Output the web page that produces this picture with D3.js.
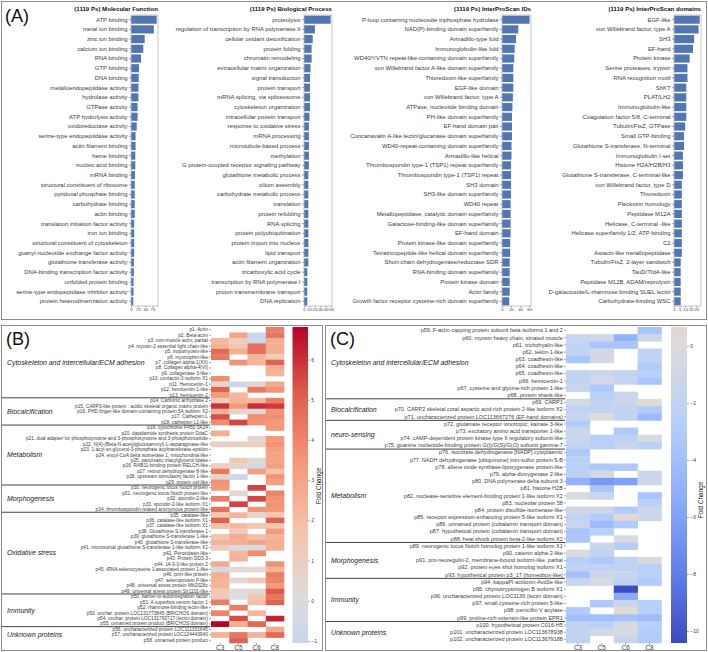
<!DOCTYPE html>
<html>
<head>
<meta charset="utf-8">
<script src="https://cdn.jsdelivr.net/npm/d3@7"></script>
<style>
  body { margin: 0; background: #fff; }
  svg { font-family: "Liberation Sans", Arial, sans-serif; }
  .axis path { display: none; }
  .axis line { stroke: #666; stroke-width: 0.6; }
  .axis text { fill: #3c3c3c; }
</style>
</head>
<body>
<svg id="chart" width="708" height="652"></svg>
<script>
// ---- panel A : top annotation terms (counts of proteins) ----
var mfTerms = ["ATP binding", "metal ion binding", "zinc ion binding", "calcium ion binding", "RNA binding",
  "GTP binding", "DNA binding", "metalloendopeptidase activity", "hydrolase activity", "GTPase activity",
  "ATP hydrolysis activity", "oxidoreductase activity", "serine-type endopeptidase activity", "actin filament binding",
  "heme binding", "nucleic acid binding", "mRNA binding", "structural constituent of ribosome",
  "pyridoxal phosphate binding", "carbohydrate binding", "actin binding", "translation initiation factor activity",
  "iron ion binding", "structural constituent of cytoskeleton", "guanyl-nucleotide exchange factor activity",
  "glutathione transferase activity", "DNA-binding transcription factor activity", "unfolded protein binding",
  "serine-type endopeptidase inhibitor activity", "protein heterodimerization activity"];
var mfCounts = [90, 80, 48, 43, 35, 28, 27, 26, 26, 23, 23, 20, 16, 16, 15, 15, 14, 13, 13, 13, 13, 11, 11, 11, 11, 10, 10, 9, 9, 8];

var bpTerms = ["proteolysis", "regulation of transcription by RNA polymerase II", "cellular oxidant detoxification",
  "protein folding", "chromatin remodeling", "extracellular matrix organization", "signal transduction",
  "protein transport", "mRNA splicing, via spliceosome", "cytoskeleton organization", "intracellular protein transport",
  "response to oxidative stress", "mRNA processing", "microtubule-based process", "methylation",
  "G protein-coupled receptor signaling pathway", "glutathione metabolic process", "cilium assembly",
  "carbohydrate metabolic process", "translation", "protein refolding", "RNA splicing", "protein polyubiquitination",
  "protein import into nucleus", "lipid transport", "actin filament organization", "tricarboxylic acid cycle",
  "transcription by RNA polymerase I", "proton transmembrane transport", "DNA replication"];
var bpCounts = [49, 20, 16, 14, 14, 12, 11, 11, 11, 11, 10, 9, 9, 9, 9, 9, 8, 8, 8, 8, 8, 8, 8, 8, 8, 8, 6, 6, 6, 6];

var iprIdTerms = ["P-loop containing nucleoside triphosphate hydrolase", "NAD(P)-binding domain superfamily",
  "Armadillo-type fold", "Immunoglobulin-like fold", "WD40/YVTN repeat-like-containing domain superfamily",
  "von Willebrand factor A-like domain superfamily", "Thioredoxin-like superfamily", "EGF-like domain",
  "von Willebrand factor, type A", "ATPase, nucleotide binding domain", "PH-like domain superfamily",
  "EF-hand domain pair", "Concanavalin A-like lectin/glucanase domain superfamily",
  "WD40-repeat-containing domain superfamily", "Armadillo-like helical",
  "Thrombospondin type-1 (TSP1) repeat superfamily", "Thrombospondin type-1 (TSP1) repeat", "SH3 domain",
  "SH3-like domain superfamily", "WD40 repeat", "Metallopeptidase, catalytic domain superfamily",
  "Galactose-binding-like domain superfamily", "EF-hand domain", "Protein kinase-like domain superfamily",
  "Tetratricopeptide-like helical domain superfamily", "Short-chain dehydrogenase/reductase SDR",
  "RNA-binding domain superfamily", "Protein kinase domain", "Actin family",
  "Growth factor receptor cysteine-rich domain superfamily"];
var iprIdCounts = [61, 36, 31, 28, 27, 25, 25, 25, 24, 23, 22, 22, 22, 21, 21, 20, 20, 20, 20, 19, 19, 19, 19, 18, 18, 17, 17, 17, 17, 16];

var iprDomTerms = ["EGF-like", "von Willebrand factor, type A", "SH3", "EF-hand", "Protein kinase",
  "Serine proteases, trypsin", "RNA recognition motif", "ShKT", "PLAT/LH2", "Immunoglobulin-like",
  "Coagulation factor 5/8, C-terminal", "Tubulin/FtsZ, GTPase", "Small GTP-binding",
  "Glutathione S-transferase, N-terminal", "Immunoglobulin I-set", "Histone H2A/H2B/H3",
  "Glutathione S-transferase, C-terminal-like", "von Willebrand factor, type D", "Thioredoxin",
  "Pleckstrin homology", "Peptidase M12A", "Helicase, C-terminal -like", "Helicase superfamily 1/2, ATP-binding",
  "C2", "Astacin-like metallopeptidase", "Tubulin/FtsZ, 2-layer sandwich", "TauD/TfdA-like",
  "Peptidase M12B, ADAM/reprolysin", "D-galactoside/L-rhamnose binding SUEL lectin", "Carbohydrate-binding WSC"];
var iprDomCounts = [23, 22, 18, 17, 14, 12, 12, 11, 11, 11, 11, 10, 9, 9, 8, 8, 8, 7, 7, 7, 7, 7, 7, 7, 7, 6, 6, 6, 6, 6];

var mfTicks = [0, 25, 50, 75];
var bpTicks = [0, 10, 20, 30, 40, 50];
var iprIdTicks = [0, 20, 40, 60];
var iprDomTicks = [0, 5, 10, 15, 20];

// ---- panels B and C : fold change heatmaps ----
var heatCols = ["C3", "C5", "C6", "C8"];
var N = null;

var upProteins = ["p1. Actin", "p2. Beta-actin", "p3. non-muscle actin, partial", "p4. myosin-2 essential light chain-like",
  "p5. tropomyosin-like", "p6. myotrophin-like", "p7. collagen alpha-1(XII)", "p8. Collagen alpha-4(VI)",
  "p9. collagenase 3-like", "p10. contactin-3 isoform X1", "p11. Hemicentin-1", "p12. hemicentin-1-like",
  "p13. hemicentin-2", "p14. Carbonic anhydrase 2", "p15. CARP3-like protein : acidic skeletal organic matrix protein",
  "p16. PHD finger-like domain-containing protein 5A isoform X2", "p17. Cathepsin L", "p18. cathepsin L1-like",
  "p19. cytochrome P450 3A24", "p20. dapdiamide synthesis protein DdaC",
  "p21. dual adapter for phosphotyrosine and 3-phosphotyrosine and 3-phosphoinositide",
  "p22. N(4)-(Beta-N-acetylglucosaminyl)-L-asparaginase-like", "p23. 1-acyl-sn-glycerol-3-phosphate acyltransferase epsilon",
  "p24. enoyl-CoA delta isomerase 1, mitochondrial-like", "p25. pancreatic triacylglycerol lipase",
  "p26. RAB11-binding protein RELCH-like", "p27. retinol dehydrogenase 8-like", "p28. upstream stimulatory factor 1-like",
  "p29. protein usf-like", "p30. neurogenic locus Notch protein", "p31. neurogenic locus Notch protein-like",
  "p32. spondin-2-like", "p33. spondin-2-like isoform X1", "p34. thrombospondin-related anonymous protein-like",
  "p35. catalase-like", "p36. catalase-like isoform X1", "p37. catalase-like isoform X1",
  "p38. Glutathione S-transferase 1", "p39. glutathione S-transferase 1-like", "p40. glutathione S-transferase-like",
  "p41. microsomal glutathione S-transferase 1-like isoform X1", "p42. Peroxidasin-like", "p43. Protein DD3-3",
  "p44. 14-3-3-like protein 2", "p45. tRNA selenocysteine 1-associated protein 1-like", "p46. pirin-like protein",
  "p47. selenoprotein F-like", "p48. universal stress protein Mb2028c", "p49. universal stress protein Slr1101-like",
  "p50. barrier-to-autointegration factor", "p51. A.superbus venom factor 1", "p52. rhamnose-binding lectin-like",
  "p53. unchar. protein LOC131773845 (BRICHOS domain)", "p54. unchar. protein LOC131793717 (lectin domain)",
  "p55. unnamed protein product (BRICHOS domain)", "p56. uncharacterized protein LOC111331645",
  "p57. uncharacterized protein LOC124443940", "p58. unnamed protein product"];
var upFold = [
  [N, N, N, 4.2], [N, 3.0, -0.7, 4.4], [2.2, 1.0, -0.7, 2.6], [2.4, 1.5, 4.6, 2.6], [4.8, 2.6, 4.6, 2.6],
  [4.4, N, 2.4, 1.2], [N, 3.6, 2.4, 5.0], [N, N, N, 2.6], [N, N, N, 2.4], [3.8, N, N, N],
  [0.4, -0.7, 0.6, 2.8], [5.0, N, 4.4, 3.6], [3.4, 2.2, N, N], [1.2, 2.4, 2.2, 4.2], [5.9, 3.4, 6.0, 5.8],
  [2.4, 0.6, 0.4, 3.6], [5.4, N, 3.8, 3.8], [3.8, 5.6, 3.6, 3.4], [N, N, N, 3.4], [2.6, N, N, N],
  [N, N, 0.4, 3.4], [1.0, 1.0, 1.0, 3.6], [N, N, N, 3.2], [N, N, N, 3.0], [N, 1.4, 0.4, 3.0],
  [1.0, 0.6, -0.6, 3.2], [4.4, N, 3.2, 1.8], [0.6, -0.6, N, 3.6], [3.6, N, N, 3.2], [3.4, N, 5.6, N],
  [N, 0.3, N, 4.0], [4.2, N, 5.6, 3.6], [N, 5.6, N, 3.6], [4.6, N, 3.6, 3.4], [1.4, 2.4, 0.3, 1.6],
  [5.0, N, N, 5.0], [1.8, 2.2, 1.6, 1.4], [N, 1.2, N, 3.4], [1.6, 2.8, 1.8, 2.4], [2.4, 2.6, 3.0, 2.6],
  [1.2, -0.3, -0.2, 2.6], [N, 2.2, 3.8, N], [N, 2.4, N, N], [2.8, N, N, 3.6], [-0.5, 0.2, 0.2, 2.4],
  [2.6, N, N, 4.2], [2.4, 0.3, 1.4, 4.0], [2.4, N, N, 3.4], [1.4, 0.2, 0.3, 5.2], [1.4, 0.0, 1.6, 4.4],
  [4.2, N, 2.0, 5.0], [N, 4.2, N, N], [4.0, N, 2.2, N], [N, 5.4, N, 6.2], [6.8, 2.6, 4.8, N],
  [N, N, N, 2.8], [2.4, 4.4, 2.4, 4.8], [N, 5.0, N, N]];
var upGroupNames = ["Cytoskeleton and intercellular/ECM adhesion", "Biocalcification", "Metabolism",
  "Morphogenesis", "Oxidative stress", "Immunity", "Unknown proteins"];
var upGroupSizes = [13, 5, 11, 5, 15, 6, 3];
var upRange = [-1.05, 6.81];
var upTicks = [-1, 0, 1, 2, 3, 4, 5, 6];

var downProteins = ["p59. F-actin-capping protein subunit beta isoforms 1 and 2", "p60. myosin heavy chain, striated muscle",
  "p61. trichohyalin-like", "p62. tektin-1-like", "p63. coadhesin-like", "p64. coadhesin-like", "p65. coadhesin-like",
  "p66. hemicentin-1", "p67. cysteine and glycine-rich protein 1-like", "p68. protein shank-like", "p69. CARP1",
  "p70. CARP2 skeletal coral aspartic acid-rich protein 2-like isoform X2",
  "p71. uncharacterized protein LOC113667276 (EF-hand domains)", "p72. glutamate receptor ionotropic; kainate 3-like",
  "p73. excitatory amino acid transporter 1-like", "p74. cAMP-dependent protein kinase type II regulatory subunit-like",
  "p75. guanine nucleotide-binding protein G(I)/G(S)/G(O) subunit gamma-7",
  "p76. isocitrate dehydrogenase [NADP] cytoplasmic", "p77. NADH dehydrogenase [ubiquinone] iron-sulfur protein 5-B",
  "p78. allene oxide synthase-lipoxygenase protein-like", "p79. alpha-dioxygenase 2-like",
  "p80. DNA polymerase delta subunit 3", "p81. histone H2B",
  "p82. nuclease-sensitive element-binding protein 1-like isoform X2", "p83. nucleolar protein 58",
  "p84. protein disulfide-isomerase-like", "p85. receptor expression-enhancing protein 5-like isoform X1",
  "p86. unnamed protein (cobalamin transport domain)", "p87. hypothetical protein (cobalamin transport domain)",
  "p88. heat shock protein beta-2-like isoform X2", "p89. neurogenic locus Notch homolog protein 1-like isoform X1",
  "p90. catenin alpha-2-like", "p91. pro-neuregulin-2, membrane-bound isoform-like, partial",
  "p92. protein eyes shut homolog isoform X1", "p93. hypothetical protein p3_17 (homeobox-like)",
  "p94. kappaPI-actitoxin-Avd3e-like", "p95. chymotrypsinogen B isoform X1",
  "p96. uncharacterized protein LOC1136 (lectin domain)", "p97. small cysteine-rich protein 5-like",
  "p98. penicillin V acylase", "p99. proline-rich extensin-like protein EPR1", "p100. hypothetical protein C016-H5",
  "p101. uncharacterized protein LOC113678938", "p102. uncharacterized protein LOC113679188"];
var downFold = [
  [N, N, N, -3.5], [-1.5, -1.0, -5.0, -1.0], [-2.0, -3.5, -3.5, N], [-2.0, -0.8, N, -2.0], [-3.5, -0.8, N, -2.0],
  [N, N, N, -3.0], [-2.0, -1.2, -2.0, -2.5], [-2.0, -0.8, -1.8, -3.5], [-1.5, -3.2, N, N], [N, -2.5, -1.5, N],
  [-0.7, -2.0, -1.2, 0.3], [-2.0, -2.0, -2.0, -3.0], [-1.5, 0.0, -2.0, -4.2], [-3.0, N, N, N], [-1.3, N, -3.2, N],
  [-1.3, -2.5, -2.2, -0.4], [-2.0, -2.5, -1.5, -2.5], [-3.2, N, N, N], [-2.5, N, N, N], [-2.5, -3.2, -3.2, N],
  [-2.3, -0.5, N, -1.3], [-5.0, -6.5, -6.0, -1.0], [N, -3.5, N, N], [-0.3, -1.5, N, -3.5], [N, N, N, -2.5],
  [-1.0, -1.0, -3.0, -1.3], [-2.0, -3.0, 0.3, -1.3], [-1.5, -4.2, -3.0, N], [-3.5, -2.5, N, N], [-3.5, N, -0.5, N],
  [N, -1.3, -2.8, N], [0.0, -2.0, N, N], [-2.6, -3.2, -2.2, -0.4], [-2.0, -2.0, -2.2, -2.6], [-3.8, -1.2, -1.5, -2.6],
  [-1.5, -0.5, -2.2, -3.0], [N, N, -10.4, N], [N, N, -5.5, N], [N, -3.2, -1.3, -2.6], [-3.0, N, 0.3, -2.6],
  [-4.0, -4.0, -3.8, -4.2], [-2.0, -2.5, -0.5, -2.5], [-2.0, -0.8, -0.5, -2.8], [-2.2, N, -1.5, -3.0]];
var downGroupNames = ["Cytoskeleton and intercellular/ECM adhesion", "Biocalcification", "neuro-sensing",
  "Metabolism", "Morphogenesis", "Immunity", "Unknown proteins"];
var downGroupSizes = [10, 3, 4, 13, 5, 6, 3];
var downRange = [-10.42, 0.67];
var downTicks = [-10, -8, -6, -4, -2, 0];

// matplotlib "coolwarm", sampled at 9 points
var coolwarm = d3.scaleLinear()
  .domain(d3.range(9).map(function(i) { return i / 8; }))
  .range(["#3b4cc0", "#6282ea", "#8db0fe", "#b8d0f9", "#dddcdc", "#f5c4ac", "#f49a7b", "#de604d", "#b40426"])
  .clamp(true);

// colour centred on 0, stretched by the larger side of the range (seaborn center=0)
function foldColor(range) {
  var half = Math.max(Math.abs(range[0]), Math.abs(range[1]));
  return function(v) { return coolwarm(0.5 + v / (2 * half)); };
}

var svg = d3.select("#chart");
var font = "Liberation Sans, Arial, sans-serif";

// panel frames
function panelBox(x0, y0, x1, y1, label, lx, ly) {
  svg.append("rect").attr("x", x0).attr("y", y0).attr("width", x1 - x0).attr("height", y1 - y0)
    .attr("fill", "none").attr("stroke", "#8c8c8c").attr("stroke-width", 1);
  svg.append("text").attr("x", lx).attr("y", ly).attr("font-size", 18).attr("fill", "#111").text(label);
}
panelBox(1.5, 1.5, 706.5, 319.5, "(A)", 5, 22);
panelBox(1.5, 325.5, 322.5, 650.5, "(B)", 6, 345);
panelBox(325.5, 325.5, 706.5, 650.5, "(C)", 330, 345);

// ---- panel A bar charts ----
function drawBars(terms, counts, ticks, title, x0, x1) {
  var top = 15, bottom = 306;
  var g = svg.append("g");
  var x = d3.scaleLinear().domain([0, d3.max(counts) * 1.05]).range([x0, x1]);
  var y = d3.scaleBand().domain(terms).range([top, bottom]).paddingInner(0.16).paddingOuter(0.06);

  g.selectAll("rect.bar").data(counts).enter().append("rect")
    .attr("class", "bar")
    .attr("x", x(0))
    .attr("y", function(d, i) { return y(terms[i]); })
    .attr("width", function(d) { return x(d) - x(0); })
    .attr("height", y.bandwidth())
    .attr("fill", "#5275b4");

  g.append("rect").attr("x", x0).attr("y", top).attr("width", x1 - x0).attr("height", bottom - top)
    .attr("fill", "none").attr("stroke", "#b9b9b9").attr("stroke-width", 0.8);

  g.append("g").attr("class", "axis")
    .attr("transform", "translate(" + x0 + ",0)")
    .call(d3.axisLeft(y).tickSize(2).tickPadding(1.5))
    .selectAll("text").attr("font-size", 5.9).attr("font-family", font);

  g.append("g").attr("class", "axis")
    .attr("transform", "translate(0," + bottom + ")")
    .call(d3.axisBottom(x).tickValues(ticks).tickSize(1.5).tickPadding(1))
    .selectAll("text").attr("font-size", 4.2).attr("font-family", font);

  g.append("text").attr("x", x1).attr("y", 11).attr("text-anchor", "end")
    .attr("font-size", 6.1).attr("font-weight", "bold").attr("fill", "#111").text(title);
}
drawBars(mfTerms, mfCounts, mfTicks, "(1119 Ps) Molecular Function", 131, 158);
drawBars(bpTerms, bpCounts, bpTicks, "(1119 Ps) Biological Process", 304, 332);
drawBars(iprIdTerms, iprIdCounts, iprIdTicks, "(1119 Ps) InterProScan IDs", 502, 531);
drawBars(iprDomTerms, iprDomCounts, iprDomTicks, "(1119 Ps) InterProScan domains", 674, 701);

// ---- panels B / C heatmaps ----
function drawHeat(opt) {
  var top = 327, bottom = 643;
  var g = svg.append("g");
  var color = foldColor(opt.range);
  var x = d3.scaleBand().domain(heatCols).range([opt.hx0, opt.hx1]);
  var y = d3.scaleBand().domain(opt.proteins).range([top, bottom]);

  var cells = [];
  opt.values.forEach(function(row, i) {
    row.forEach(function(v, j) {
      if (v !== null) cells.push({ p: opt.proteins[i], c: heatCols[j], v: v });
    });
  });
  g.selectAll("rect.cell").data(cells).enter().append("rect")
    .attr("x", function(d) { return x(d.c); })
    .attr("y", function(d) { return y(d.p); })
    .attr("width", x.bandwidth() + 0.3)
    .attr("height", y.bandwidth() + 0.3)
    .attr("fill", function(d) { return color(d.v); });

  g.append("g").attr("class", "axis")
    .attr("transform", "translate(" + opt.hx0 + ",0)")
    .call(d3.axisLeft(y).tickSize(2).tickPadding(1.2))
    .selectAll("text").attr("font-size", opt.labelSize).attr("font-family", font);

  g.append("g").attr("class", "axis")
    .attr("transform", "translate(0," + bottom + ")")
    .call(d3.axisBottom(x).tickSize(2).tickPadding(0.5))
    .selectAll("text").attr("font-size", 6.3).attr("font-family", font);

  // group separators and group names
  var start = 0;
  opt.groupSizes.forEach(function(n, k) {
    var yTop = y(opt.proteins[start]);
    var yEnd = y(opt.proteins[start + n - 1]) + y.bandwidth();
    g.append("text").attr("x", opt.px0 + 5).attr("y", (yTop + yEnd) / 2 + 2.3)
      .attr("font-size", 6.9).attr("font-style", "italic").attr("fill", "#222").text(opt.groupNames[k]);
    if (k < opt.groupSizes.length - 1) {
      g.append("line").attr("x1", opt.px0).attr("x2", opt.hx0 - 1)
        .attr("y1", yEnd).attr("y2", yEnd).attr("stroke", "#444").attr("stroke-width", 1);
    }
    start += n;
  });

  // colorbar
  var cb = d3.scaleLinear().domain(opt.range).range([bottom, top]);
  var gradId = "grad" + opt.id;
  var grad = svg.append("defs").append("linearGradient").attr("id", gradId)
    .attr("x1", 0).attr("y1", 1).attr("x2", 0).attr("y2", 0);
  d3.range(21).forEach(function(i) {
    var v = opt.range[0] + (opt.range[1] - opt.range[0]) * i / 20;
    grad.append("stop").attr("offset", (i * 5) + "%").attr("stop-color", color(v));
  });
  g.append("rect").attr("x", opt.cbx).attr("y", top).attr("width", opt.cbw).attr("height", bottom - top)
    .attr("fill", "url(#" + gradId + ")");
  g.append("g").attr("class", "axis")
    .attr("transform", "translate(" + (opt.cbx + opt.cbw) + ",0)")
    .call(d3.axisRight(cb).tickValues(opt.ticks).tickSize(1.8).tickPadding(1.5))
    .selectAll("text").attr("font-size", 5).attr("font-family", font);
  g.append("text")
    .attr("transform", "translate(" + opt.cbLabelX + "," + opt.cbLabelY + ")rotate(-90)")
    .attr("text-anchor", "middle").attr("font-size", 6.4).attr("fill", "#222").text("Fold Change");
}

drawHeat({ id: "B", proteins: upProteins, values: upFold, groupNames: upGroupNames, groupSizes: upGroupSizes,
  range: upRange, ticks: upTicks, hx0: 211, hx1: 284, px0: 2, labelSize: 4.8,
  cbx: 292.5, cbw: 15.5, cbLabelX: 321, cbLabelY: 486 });
drawHeat({ id: "C", proteins: downProteins, values: downFold, groupNames: downGroupNames, groupSizes: downGroupSizes,
  range: downRange, ticks: downTicks, hx0: 566, hx1: 661.5, px0: 326, labelSize: 5.5,
  cbx: 671, cbw: 16, cbLabelX: 703, cbLabelY: 500 });
</script>
</body>
</html>
